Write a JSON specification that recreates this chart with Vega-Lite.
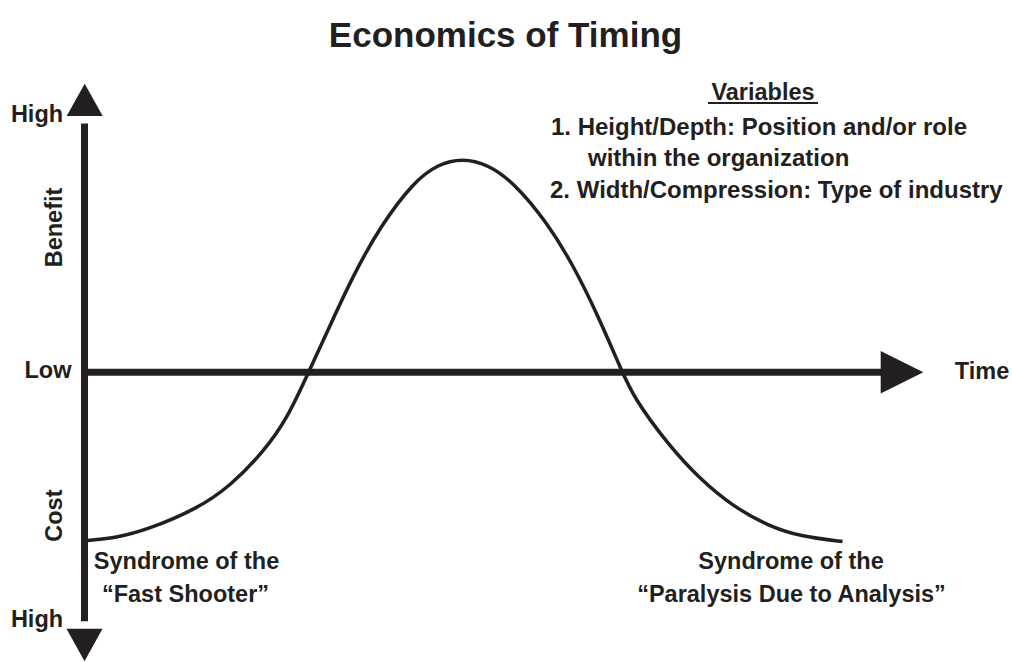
{
  "$schema": "https://vega.github.io/schema/vega-lite/v6.json",
  "width": 1012,
  "height": 662,
  "autosize": {"type": "fit", "contains": "padding"},
  "padding": 0,
  "background": "white",
  "config": {"view": {"stroke": null}},
  "encoding": {
    "x": {"field": "t", "type": "quantitative", "axis": null, "scale": {"domain": [-84.5, 927.5], "nice": false, "zero": false}},
    "y": {"field": "v", "type": "quantitative", "axis": null, "scale": {"domain": [-288, 374], "nice": false, "zero": false}}
  },
  "layer": [
    {
      "data": {"values": [
        {"axis": "benefit-cost", "t": 0, "t2": 0, "v": 250, "v2": -250},
        {"axis": "time", "t": -3.5, "t2": 810, "v": 0, "v2": 0}
      ]},
      "mark": {"type": "rule", "strokeWidth": 7, "color": "#231f20", "strokeCap": "butt"},
      "encoding": {"x2": {"field": "t2"}, "y2": {"field": "v2"}}
    },
    {
      "data": {"values": [
        {"dir": "up", "t": 0.2, "v": 273.7},
        {"dir": "down", "t": 0, "v": -274}
      ]},
      "mark": {"type": "point", "filled": true, "opacity": 1, "color": "#231f20", "size": 1296, "strokeWidth": 0},
      "encoding": {
        "shape": {"field": "dir", "type": "nominal", "legend": null, "scale": {"domain": ["up", "down"], "range": ["M-1,0.9L1,0.9L0,-0.9Z", "M-1,-0.9L1,-0.9L0,0.9Z"]}}
      }
    },
    {
      "data": {"values": [{"dir": "right", "t": 817.5, "v": 0}]},
      "mark": {"type": "point", "filled": true, "opacity": 1, "color": "#231f20", "size": 1815, "strokeWidth": 0, "shape": "M-1,-1L1,0L-1,1Z"}
    },
    {
      "data": {"values": [
        {"t": 3, "v": -169}, {"t": 33, "v": -166}, {"t": 63, "v": -158}, {"t": 113, "v": -137},
        {"t": 146, "v": -114}, {"t": 179, "v": -80}, {"t": 203, "v": -46}, {"t": 224, "v": 0},
        {"t": 246, "v": 48}, {"t": 269, "v": 98}, {"t": 296, "v": 147}, {"t": 329, "v": 191},
        {"t": 353, "v": 209}, {"t": 378, "v": 215}, {"t": 403, "v": 209}, {"t": 429, "v": 191},
        {"t": 463, "v": 150}, {"t": 489, "v": 107}, {"t": 513, "v": 58}, {"t": 537, "v": 2},
        {"t": 549, "v": -25}, {"t": 583, "v": -72}, {"t": 616, "v": -108}, {"t": 649, "v": -135},
        {"t": 683, "v": -154}, {"t": 716, "v": -165}, {"t": 758, "v": -170}
      ]},
      "mark": {"type": "line", "interpolate": "basis", "strokeWidth": 3.5, "color": "#231f20", "strokeCap": "butt"}
    },
    {
      "data": {"values": [{"label": "Economics of Timing", "t": 421, "v": 327}]},
      "mark": {"type": "text", "font": "Liberation Sans", "fontWeight": "bold", "fontSize": 35, "align": "center", "baseline": "alphabetic", "color": "#231f20"},
      "encoding": {"text": {"field": "label"}}
    },
    {
      "data": {"values": [
        {"label": "High", "t": -47.5, "v": 251},
        {"label": "Low", "t": -36.5, "v": -6},
        {"label": "High", "t": -47.5, "v": -256},
        {"label": "Time", "t": 897.5, "v": -7},
        {"label": "Syndrome of the", "t": 102, "v": -198},
        {"label": "“Fast Shooter”", "t": 101, "v": -231},
        {"label": "Syndrome of the", "t": 706.5, "v": -198},
        {"label": "“Paralysis Due to Analysis”", "t": 707, "v": -231},
        {"label": "Variables", "t": 678.5, "v": 273.5}
      ]},
      "mark": {"type": "text", "font": "Liberation Sans", "fontWeight": "bold", "fontSize": 23.5, "align": "center", "baseline": "alphabetic", "color": "#231f20"},
      "encoding": {"text": {"field": "label"}}
    },
    {
      "data": {"values": [
        {"label": "Benefit", "t": -23, "v": 145.5},
        {"label": "Cost", "t": -23, "v": -144}
      ]},
      "mark": {"type": "text", "font": "Liberation Sans", "fontWeight": "bold", "fontSize": 23.5, "align": "center", "baseline": "alphabetic", "angle": 270, "color": "#231f20"},
      "encoding": {"text": {"field": "label"}}
    },
    {
      "data": {"values": [
        {"label": "1. Height/Depth: Position and/or role", "t": 466.5, "v": 238.5},
        {"label": "within the organization", "t": 503.5, "v": 207},
        {"label": "2. Width/Compression: Type of industry", "t": 465.5, "v": 175.5}
      ]},
      "mark": {"type": "text", "font": "Liberation Sans", "fontWeight": "bold", "fontSize": 24, "align": "left", "baseline": "alphabetic", "color": "#231f20"},
      "encoding": {"text": {"field": "label"}}
    },
    {
      "data": {"values": [{"t": 623.5, "t2": 733.5, "v": 270.5}]},
      "mark": {"type": "rule", "strokeWidth": 2, "color": "#231f20"},
      "encoding": {"x2": {"field": "t2"}}
    }
  ]
}
